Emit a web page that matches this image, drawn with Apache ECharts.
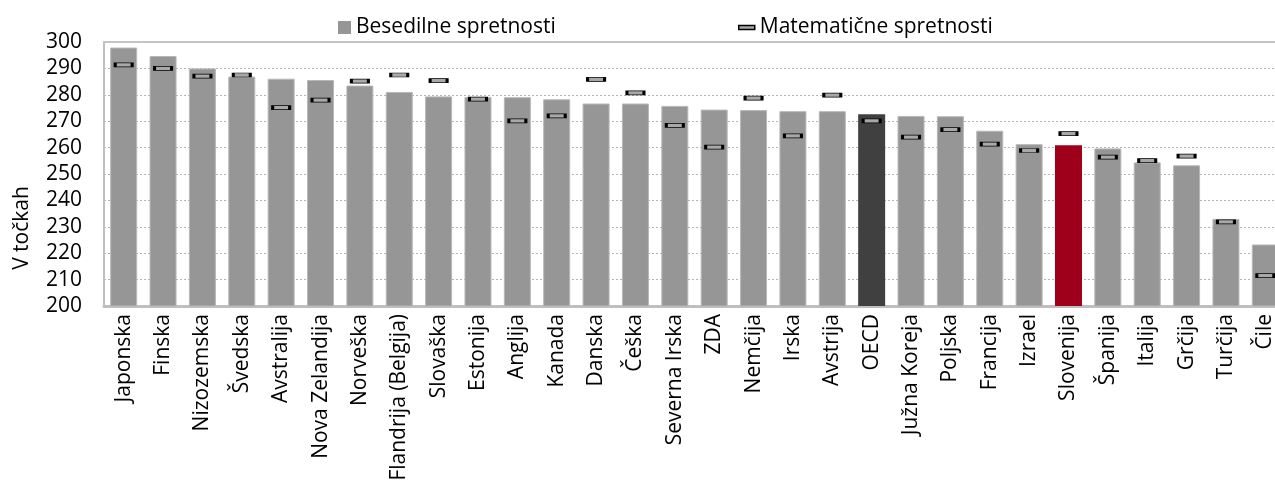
<!DOCTYPE html>
<html>
<head>
<meta charset="utf-8">
<script src="https://cdn.jsdelivr.net/npm/echarts@6/dist/echarts.min.js"></script>
<style>
  html, body { margin: 0; padding: 0; background: #fff; }
  #chart { width: 1275px; height: 485px; }
</style>
</head>
<body>
<div id="chart"></div>
<script>
// Countries, ordered by literacy score
const countries = [
  'Japonska', 'Finska', 'Nizozemska', 'Švedska', 'Avstralija', 'Nova Zelandija',
  'Norveška', 'Flandrija (Belgija)', 'Slovaška', 'Estonija', 'Anglija', 'Kanada',
  'Danska', 'Češka', 'Severna Irska', 'ZDA', 'Nemčija', 'Irska', 'Avstrija', 'OECD',
  'Južna Koreja', 'Poljska', 'Francija', 'Izrael', 'Slovenija', 'Španija', 'Italija',
  'Grčija', 'Turčija', 'Čile'
];

// Mean literacy proficiency (bars)
const literacy = [
  297.9, 294.7, 290.0, 286.9, 286.1, 285.6, 283.5, 281.1, 279.4, 279.2,
  279.1, 278.3, 276.7, 276.7, 275.8, 274.4, 274.2, 273.8, 273.8, 272.6,
  272.0, 271.9, 266.4, 261.3, 260.9, 259.7, 254.4, 253.3, 233.0, 223.3
];

// Mean numeracy proficiency (markers)
const numeracy = [
  291.3, 290.0, 287.1, 287.5, 275.1, 278.0, 285.2, 287.5, 285.4, 278.4,
  270.1, 272.0, 285.8, 280.7, 268.4, 260.2, 278.7, 264.4, 279.9, 270.1,
  264.0, 266.8, 261.3, 258.9, 265.3, 256.4, 255.1, 256.8, 231.9, 211.5
];

const seriesNames = ['Besedilne spretnosti', 'Matematične spretnosti'];
const axisTitle = 'V točkah';

const FONT = '"Open Sans", "Noto Sans", sans-serif';
const BAR_GREY = '#969696';
const MARK_FILL = '#a8a8a8';
const barColours = { 'OECD': '#404040', 'Slovenija': '#9e001c' };

const barData = literacy.map((v, i) => {
  const c = barColours[countries[i]];
  return c
    ? { value: v, itemStyle: { color: c, borderWidth: 0 } }
    : { value: v };
});

const chart = echarts.init(document.getElementById('chart'), null, { renderer: 'canvas' });

chart.setOption({
  animation: false,
  backgroundColor: '#ffffff',
  textStyle: { fontFamily: FONT, color: '#000' },
  // the plot runs a little past the right edge of the canvas
  grid: { left: 104, top: 42, width: 1181, height: 264, containLabel: false, outerBoundsMode: 'none' },
  legend: [
    {
      left: 333, top: 12,
      itemWidth: 13, itemHeight: 13,
      textStyle: { fontFamily: FONT, fontSize: 21, color: '#000' },
      data: [{ name: seriesNames[0], icon: 'rect', itemStyle: { color: BAR_GREY, borderWidth: 0 } }]
    },
    {
      left: 733, top: 12,
      itemWidth: 16, itemHeight: 4,
      textStyle: { fontFamily: FONT, fontSize: 21, color: '#000' },
      data: [{ name: seriesNames[1], icon: 'rect', itemStyle: { color: MARK_FILL, borderColor: '#000', borderWidth: 1.5 } }]
    }
  ],
  xAxis: [
    {
      type: 'category',
      data: countries,
      position: 'bottom',
      axisLine: { show: true, lineStyle: { color: '#bfbfbf', width: 3 } },
      axisTick: { show: false },
      axisLabel: {
        interval: 0, rotate: 90, margin: 8,
        fontFamily: FONT, fontSize: 21, color: '#000'
      },
      splitLine: { show: false }
    },
    {
      type: 'category',
      data: countries,
      position: 'top',
      axisLine: { show: true, lineStyle: { color: '#c4c4c4', width: 2 } },
      axisTick: { show: false },
      axisLabel: { show: false },
      splitLine: { show: false }
    }
  ],
  yAxis: {
    type: 'value',
    min: 200, max: 300, interval: 10,
    axisLine: { show: true, lineStyle: { color: '#bfbfbf', width: 2 } },
    axisTick: { show: false },
    axisLabel: { margin: 22, fontFamily: FONT, fontSize: 21, color: '#000' },
    splitLine: { show: true, lineStyle: { color: '#b4b4b4', width: 1, type: [2, 2] } }
  },
  graphic: [
    {
      type: 'text',
      x: 22, y: 228,
      rotation: Math.PI / 2,
      style: {
        text: axisTitle,
        fontFamily: FONT, fontSize: 21, fill: '#000',
        align: 'center', verticalAlign: 'middle'
      }
    }
  ],
  series: [
    {
      name: seriesNames[0],
      type: 'bar',
      xAxisIndex: 0,
      data: barData,
      barWidth: 27,
      itemStyle: { color: BAR_GREY, borderColor: '#b8b8b8', borderWidth: 1 },
      z: 2
    },
    {
      name: seriesNames[1],
      type: 'scatter',
      xAxisIndex: 0,
      data: numeracy,
      symbol: 'rect',
      symbolSize: [17, 4],
      itemStyle: { color: MARK_FILL, borderColor: '#000', borderWidth: 1.5, opacity: 1 },
      z: 3
    }
  ]
});
</script>
</body>
</html>
